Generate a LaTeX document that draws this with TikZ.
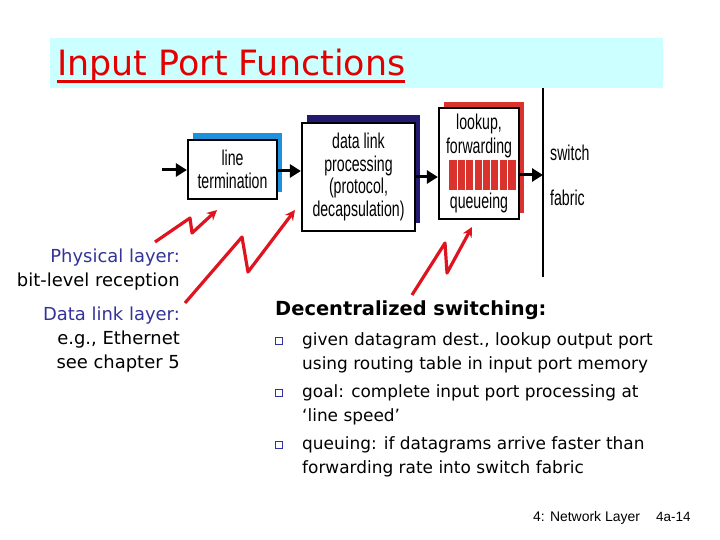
\documentclass[tikz,border=0pt]{standalone}
\usepackage{fontspec}
\setmainfont{DejaVu Sans}
\newfontfamily\diagfont{Liberation Sans}[FakeStretch=0.66]
\newfontfamily\footfont{Liberation Sans}
\usetikzlibrary{arrows.meta,shadows}
\definecolor{titlered}{RGB}{228,0,0}
\definecolor{titlebg}{RGB}{204,255,255}
\definecolor{ltblue}{RGB}{30,144,220}
\definecolor{dnavy}{RGB}{35,25,110}
\definecolor{qred}{RGB}{218,50,45}
\definecolor{zigred}{RGB}{222,20,30}
\definecolor{txtnavy}{RGB}{51,51,153}
\tikzset{
  box/.style={draw, line width=2.2bp, fill=white, align=center, inner sep=0pt,
    font=\diagfont\fontsize{21.5}{23}\selectfont},
  dtext/.style={font=\diagfont\fontsize{21.5}{23.5}\selectfont, inner sep=0pt, align=center},
  flow/.style={line width=3bp, -{Triangle[length=11bp,width=13bp]}},
  zig/.style={draw=zigred, line width=3.2bp, line join=round, -{Stealth[length=10bp,width=10bp]}},
  lefttxt/.style={anchor=base east, inner sep=0pt, font=\fontsize{18}{24}\selectfont},
  bultxt/.style={anchor=base west, inner sep=0pt, font=\fontsize{17}{24}\selectfont},
  bulsq/.style={draw=txtnavy, line width=1.1bp, minimum size=7.5bp, inner sep=0pt},
}
\begin{document}
\begin{tikzpicture}[x=1bp,y=-1bp]
\useasboundingbox (0,0) rectangle (720,540);
\fill[white] (0,0) rectangle (720,540);

% title bar
\fill[titlebg] (50,38) rectangle (663,88);
\node[anchor=base west, inner sep=0pt, text=titlered, font=\fontsize{35}{38}\selectfont] (title) at (57,76) {Input Port Functions};
\draw[titlered, line width=2.6bp] ([yshift=-5.5bp]title.base west) -- ([yshift=-5.5bp]title.base east);

% boxes
\node[box, minimum width=89bp, minimum height=59bp,
  general shadow={fill=ltblue, shadow xshift=4.5bp, shadow yshift=7bp}] (lt) at (232.5,169.5) {line\\termination};
\node[box, minimum width=113bp, minimum height=108bp,
  general shadow={fill=dnavy, shadow xshift=5bp, shadow yshift=7.5bp}] (dl) at (358.5,177) {data link\\processing\\(protocol,\\decapsulation)};
\node[box, minimum width=80bp, minimum height=111bp,
  general shadow={fill=qred, shadow xshift=4.5bp, shadow yshift=6bp}] (lk) at (479,163.5) {};
\node[dtext] (lkt) at (479,136) {lookup,\\forwarding};
\node[fill=qred, minimum width=67bp, minimum height=30bp, inner sep=0pt] (q) at (482.5,175) {};
\foreach \i in {1,...,7}{
  \draw[white, line width=1.3bp] ([xshift=\i*8.375bp]q.north west) -- ([xshift=\i*8.375bp]q.south west);
}
\node[dtext] (lkq) at (479,203) {queueing};

% switch fabric
\coordinate (ftop) at (543,88);
\coordinate (fbot) at (543,277);
\draw[line width=1.8bp] (ftop) -- (fbot);
\node[dtext, anchor=west] (sw) at (550,153) {switch};
\node[dtext, anchor=west] (fb) at (550,198) {fabric};

% flow arrows
\coordinate (in) at (162,170);
\draw[flow] (in) -- (in -| lt.west);
\draw[flow] ([yshift=-1.5bp]lt.east) -- ([yshift=-1.5bp]lt.east -| dl.west);
\draw[flow] (dl.east) -- (dl.east -| lk.west);
\coordinate (lko) at ([yshift=-11.5bp]lk.east);
\draw[flow] (lko) -- (lko -| ftop);

% zigzag arrows
\coordinate (z1) at (155,242);
\coordinate (z1e) at (217,210);
\draw[zig] (z1) -- (190,218) -- (192,233) -- (z1e);
\coordinate (z2) at (185,303);
\coordinate (z2e) at (295,210);
\draw[zig] (z2) -- (242,237) -- (248,272) -- (z2e);
\coordinate (z3) at (412,295);
\coordinate (z3e) at (472,227);
\draw[zig] (z3) -- (445,243) -- (447,273) -- (z3e);

% left texts
\node[lefttxt, text=txtnavy] (l1) at (180,263) {Physical layer:};
\node[lefttxt] (l2) at (180,287) {bit-level reception};
\node[lefttxt, text=txtnavy] (l3) at (180,320) {Data link layer:};
\node[lefttxt] (l4) at (180,344) {e.g., Ethernet};
\node[lefttxt] (l5) at (180,368) {see chapter 5};

% right texts
\node[anchor=base west, inner sep=0pt, font=\bfseries\fontsize{19.5}{24}\selectfont] (hd) at (275,315) {Decentralized switching:};
\node[bulsq] (b1) at (279,341) {};
\node[bultxt] (t1a) at (302,345) {given datagram dest., lookup output port};
\node[bultxt] (t1b) at (302,369) {using routing table in input port memory};
\node[bulsq] (b2) at (279,393) {};
\node[bultxt] (t2a) at (302,397) {goal: complete input port processing at};
\node[bultxt] (t2b) at (302,421) {‘line speed’};
\node[bulsq] (b3) at (279,445) {};
\node[bultxt] (t3a) at (302,449) {queuing: if datagrams arrive faster than};
\node[bultxt] (t3b) at (302,473) {forwarding rate into switch fabric};

% footer
\node[anchor=base west, inner sep=0pt, font=\footfont\fontsize{14}{16}\selectfont] (ft1) at (533,521) {4: Network Layer};
\node[anchor=base west, inner sep=0pt, font=\footfont\fontsize{13.5}{16}\selectfont] (ft2) at (656,521) {4a-14};
\end{tikzpicture}
\end{document}
